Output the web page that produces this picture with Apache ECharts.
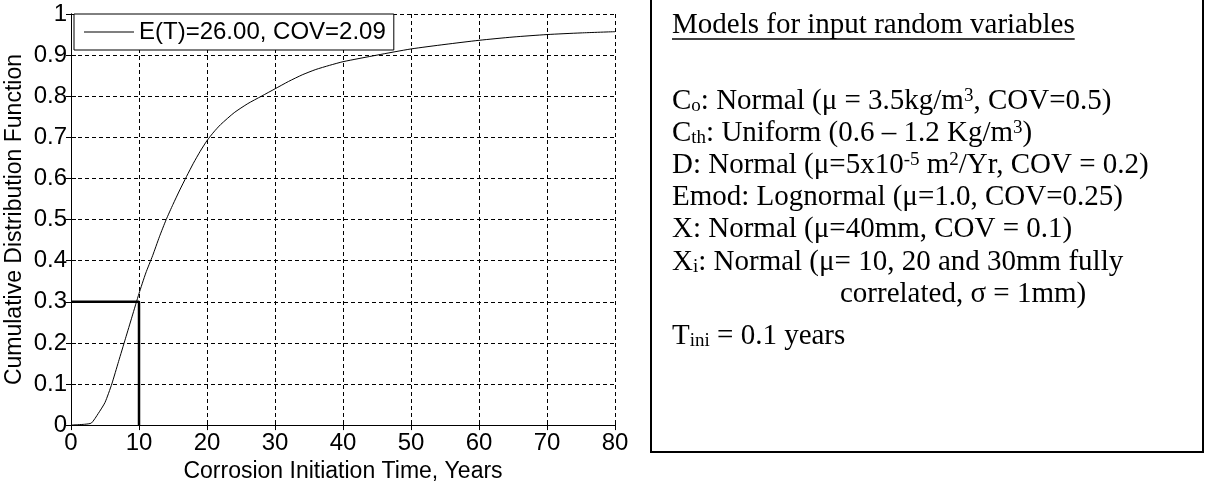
<!DOCTYPE html>
<html lang="en">
<head>
	<meta charset="UTF-8">
	<title>CDF of corrosion initiation time</title>
	<style type="text/css">
		html, body { margin: 0; padding: 0; background: #fff; }
		.box { width: 1205px; height: 488px; }
	</style>
</head>
<body>
	<div class="box" id="main"></div>
	<script type="text/javascript" src="https://cdn.jsdelivr.net/npm/echarts@6/dist/echarts.min.js"></script>
	<script type="text/javascript">
		// data
		var years = [0, 1, 2, 3, 4, 5, 6, 7, 8, 9, 10, 11, 12, 13, 14, 15, 16, 17, 18, 19, 20,
			21, 22, 24, 26, 28, 30, 32, 34, 36, 38, 40, 45, 50, 55, 60, 65, 70, 75, 80];
		var cdf = [0, 0.001, 0.002, 0.005, 0.028, 0.055, 0.10, 0.155, 0.21, 0.265, 0.32, 0.37, 0.412, 0.458, 0.50,
			0.537, 0.572, 0.605, 0.637, 0.666, 0.692,
			0.713, 0.731, 0.76, 0.782, 0.80, 0.818, 0.836, 0.852, 0.865, 0.875, 0.884, 0.90, 0.915, 0.926, 0.936, 0.944, 0.95, 0.954, 0.957];
		var markX = [0, 10, 10];
		var markY = [0.3, 0.3, 0];
		var legendName = 'E(T)=26.00, COV=2.09';

		var sans = '"Liberation Sans", Arial, sans-serif';
		var serif = '"Liberation Serif", "Times New Roman", serif';

		var myChart = echarts.init(document.getElementById('main'));

		var curve = years.map(function (x, i) { return [x, cdf[i]]; });
		var mark = markX.map(function (x, i) { return [x, markY[i]]; });

		// text of the box on the right (y = baseline)
		var boxLines = [
			{ t: 'C{sub|o}: Normal (μ = 3.5kg/m{sup|3}, COV=0.5)', x: 672, y: 111 },
			{ t: 'C{sub|th}: Uniform (0.6 – 1.2 Kg/m{sup|3})', x: 672, y: 143 },
			{ t: 'D: Normal (μ=5x10{sup|-5} m{sup|2}/Yr, COV = 0.2)', x: 672, y: 175 },
			{ t: 'Emod: Lognormal (μ=1.0, COV=0.25)', x: 672, y: 207 },
			{ t: 'X: Normal (μ=40mm, COV = 0.1)', x: 672, y: 239 },
			{ t: 'X{sub|i}: Normal (μ= 10, 20 and 30mm fully', x: 672, y: 272 },
			{ t: 'correlated, σ = 1mm)', x: 840, y: 304 },
			{ t: 'T{sub|ini} = 0.1 years', x: 672, y: 346 }
		];
		var fs = 29;
		var title = 'Models for input random variables';
		var ctx = document.createElement('canvas').getContext('2d');
		ctx.font = fs + 'px ' + serif;
		var titleW = ctx.measureText(title).width;

		var graphic = [{
			type: 'rect',
			shape: { x: 651, y: -5, width: 552, height: 457 },
			style: { fill: 'none', stroke: '#000', lineWidth: 2 }
		}, {
			type: 'text',
			style: { text: title, x: 672, y: 35 - 10, font: fs + 'px ' + serif, fill: '#000', verticalAlign: 'middle' }
		}, {
			type: 'line',
			shape: { x1: 672, y1: 39, x2: 672 + titleW, y2: 39 },
			style: { stroke: '#000', lineWidth: 1.5 }
		}];
		boxLines.forEach(function (ln) {
			graphic.push({
				type: 'text',
				style: {
					text: ln.t, x: ln.x, y: ln.y - 10,
					fontSize: fs, fontFamily: serif, fill: '#000', verticalAlign: 'middle',
					rich: {
						sub: { fontSize: 19, fontFamily: serif, lineHeight: 14, verticalAlign: 'bottom' },
						sup: { fontSize: 19, fontFamily: serif, lineHeight: 14, verticalAlign: 'top' }
					}
				}
			});
		});

		var axisFont = { color: '#000', fontSize: 23, fontFamily: sans };
		var dash = { show: true, lineStyle: { color: '#000', type: [4, 3], width: 1 } };
		var line = { show: true, lineStyle: { color: '#000', width: 1 } };
		var tick = { show: true, inside: true, length: 5, lineStyle: { color: '#000' } };

		var option = {
			animation: false,
			backgroundColor: '#fff',
			grid: { left: 71, right: 590, top: 14, bottom: 60 },
			legend: {
				data: [legendName],
				left: 74, top: 14,
				icon: 'rect',
				itemWidth: 50, itemHeight: 1,
				itemStyle: { color: '#000' },
				padding: [6, 8, 6, 10],
				backgroundColor: '#fff',
				borderColor: '#000', borderWidth: 1,
				borderRadius: 0,
				textStyle: { color: '#000', fontSize: 24, fontFamily: sans }
			},
			xAxis: [{
				type: 'value', min: 0, max: 80, interval: 10,
				name: 'Corrosion Initiation Time, Years',
				nameLocation: 'middle', nameGap: 30,
				nameTextStyle: axisFont,
				axisLine: line, axisTick: tick, splitLine: dash,
				axisLabel: { color: '#000', fontSize: 24, fontFamily: sans, margin: 6 }
			}, {
				type: 'value', min: 0, max: 80, interval: 10, position: 'top',
				axisLine: line, axisTick: tick, splitLine: { show: false },
				axisLabel: { show: false }
			}],
			yAxis: [{
				type: 'value', min: 0, max: 1, interval: 0.1,
				name: 'Cumulative Distribution Function',
				nameLocation: 'middle', nameGap: 45, nameRotate: 90,
				nameTextStyle: axisFont,
				axisLine: line, axisTick: tick, splitLine: dash,
				axisLabel: { color: '#000', fontSize: 24, fontFamily: sans, margin: 4 }
			}, {
				type: 'value', min: 0, max: 1, interval: 0.1, position: 'right',
				axisLine: line, axisTick: tick, splitLine: { show: false },
				axisLabel: { show: false }
			}],
			series: [{
				name: legendName,
				type: 'line',
				data: curve,
				symbol: 'none',
				showSymbol: false,
				smooth: 0.2,
				lineStyle: { color: '#000', width: 1 },
				itemStyle: { color: '#000' },
				z: 3
			}, {
				name: 'mark',
				type: 'line',
				data: mark,
				symbol: 'none',
				showSymbol: false,
				lineStyle: { color: '#000', width: 2.5 },
				z: 4
			}],
			graphic: graphic
		};
		myChart.setOption(option);
	</script>
</body>
</html>
